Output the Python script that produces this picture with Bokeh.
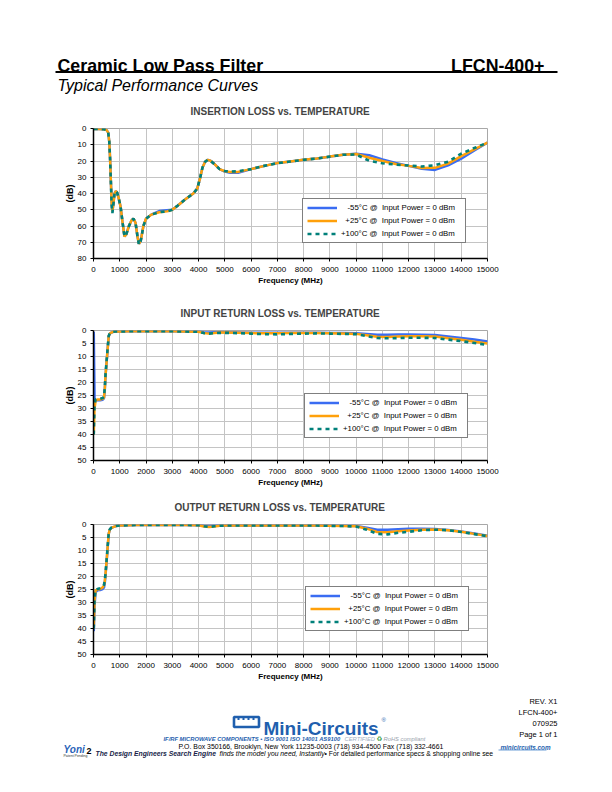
from bokeh.plotting import figure
from bokeh.models import Range1d, FixedTicker, BasicTickFormatter, Label, Arrow
from bokeh.layouts import column
from bokeh.embed import file_html
from bokeh.resources import INLINE

FONT = "Liberation Sans"

# ---------------- data ----------------
freq_il = [10, 200, 400, 500, 560, 600, 630, 660, 690, 720, 760, 800, 850, 900, 960,
           1030, 1100, 1180, 1250, 1350, 1450, 1520, 1600, 1680, 1730, 1800, 1900, 2000,
           2200, 2500, 2800, 3000, 3200, 3500, 3800, 3950, 4050, 4150, 4250, 4350, 4450,
           4600, 4800, 5000, 5200, 5500, 6000, 6500, 7000, 7500, 8000, 8500, 9000, 9500,
           10000, 10500, 11000, 11500, 12000, 12500, 13000, 13500, 14000, 14500, 15000]
il_m55 = [0.3, 0.3, 0.5, 1.0, 2.5, 8.0, 18.0, 32.0, 45.0, 51.0, 46.0, 40.0, 38.5, 39.5, 43.0,
          48.0, 57.0, 66.5, 65.0, 60.0, 56.5, 55.5, 58.0, 67.0, 71.0, 69.0, 60.0, 55.5,
          53.0, 50.8, 50.3, 50.0, 47.5, 43.5, 40.0, 37.0, 31.0, 24.0, 20.5, 19.3, 19.8,
          21.8, 25.0, 26.5, 27.2, 27.3, 25.0, 23.0, 21.3, 20.3, 19.3, 18.5, 17.3, 16.2,
          15.5, 16.5, 19.0, 21.2, 23.0, 24.8, 25.5, 22.7, 18.6, 13.5, 8.7]
il_p25 = [0.3, 0.3, 0.5, 1.0, 2.5, 8.0, 18.0, 32.0, 45.5, 51.0, 46.0, 40.0, 38.5, 39.5, 43.0,
          48.0, 57.0, 66.5, 65.0, 60.0, 56.5, 55.5, 58.0, 67.0, 71.0, 69.0, 60.0, 55.5,
          53.0, 51.5, 51.0, 50.0, 47.5, 43.5, 40.0, 37.0, 31.0, 24.0, 20.5, 19.3, 19.8,
          21.8, 25.0, 26.3, 26.8, 26.7, 25.0, 23.0, 21.3, 20.3, 19.3, 18.5, 17.3, 16.2,
          15.7, 18.0, 20.0, 21.8, 23.0, 24.3, 24.2, 21.6, 17.0, 12.8, 8.7]
il_p100 = [0.3, 0.3, 0.5, 1.0, 2.5, 8.0, 18.0, 32.0, 47.0, 52.0, 46.0, 40.0, 38.5, 39.5, 43.0,
           48.0, 57.0, 66.5, 65.0, 60.0, 56.5, 55.5, 58.0, 67.0, 71.5, 69.0, 60.0, 55.5,
           53.0, 51.5, 51.0, 50.0, 47.5, 43.5, 40.0, 37.0, 31.0, 24.0, 20.5, 19.3, 19.8,
           21.8, 25.0, 26.2, 26.5, 26.3, 25.0, 23.0, 21.3, 20.3, 19.3, 18.5, 17.3, 16.2,
           16.0, 19.9, 21.4, 22.2, 22.8, 23.4, 22.6, 20.4, 15.5, 12.0, 8.7]

freq_rl = [10, 40, 80, 150, 250, 350, 400, 430, 460, 500, 540, 580, 620, 680, 750, 850,
           1000, 1300, 1600, 2000, 2500, 3000, 3500, 4000, 4200, 4400, 4600, 4800, 5000,
           5500, 6000, 6500, 7000, 7500, 8000, 8500, 9000, 9500, 10000, 10400, 10800,
           11200, 11600, 12000, 12500, 13000, 13500, 14000, 14500, 15000]
irl_m55 = [0.5, 26.5, 26.8, 26.8, 26.8, 26.6, 26.0, 22.8, 17.2, 12.0, 7.0, 2.2, 1.2, 0.8,
           0.5, 0.4, 0.4, 0.3, 0.3, 0.3, 0.3, 0.3, 0.4, 0.4, 0.7, 0.8, 0.7, 0.7, 0.7, 0.8,
           0.9, 0.9, 0.9, 0.9, 0.9, 0.9, 1.0, 1.0, 1.1, 1.3, 1.6, 1.6, 1.5, 1.5, 1.6, 1.7,
           2.3, 2.9, 3.5, 4.2]
irl_p25 = [40.0, 30.0, 27.0, 26.5, 26.5, 26.3, 25.8, 22.5, 17.0, 12.0, 7.0, 2.2, 1.2, 0.8,
           0.5, 0.4, 0.4, 0.3, 0.3, 0.3, 0.3, 0.3, 0.4, 0.5, 1.0, 1.2, 1.0, 0.8, 0.8, 0.9,
           1.0, 1.1, 1.1, 1.0, 1.0, 1.0, 1.1, 1.2, 1.3, 1.8, 2.4, 2.5, 2.3, 2.2, 2.2, 2.3,
           3.0, 3.6, 4.3, 5.0]
irl_p100 = [40.0, 28.5, 26.5, 26.3, 26.3, 26.0, 25.5, 22.0, 16.5, 11.5, 6.5, 2.0, 1.1, 0.8,
            0.5, 0.4, 0.4, 0.3, 0.3, 0.3, 0.3, 0.3, 0.4, 0.5, 1.0, 1.2, 1.0, 0.9, 0.9, 1.0,
            1.2, 1.4, 1.5, 1.3, 1.2, 1.1, 1.2, 1.3, 1.4, 2.2, 2.9, 3.0, 2.9, 2.8, 2.8, 2.9,
            3.5, 4.1, 4.8, 5.6]

orl_m55 = [41.0, 31.0, 26.0, 25.3, 25.2, 24.8, 24.2, 22.5, 19.3, 14.2, 8.8, 3.6, 2.0, 1.3,
           1.0, 0.6, 0.4, 0.3, 0.2, 0.2, 0.2, 0.2, 0.2, 0.3, 0.5, 0.6, 0.5, 0.4, 0.4, 0.4,
           0.4, 0.4, 0.4, 0.4, 0.4, 0.4, 0.4, 0.5, 0.6, 1.2, 2.0, 2.0, 1.8, 1.6, 1.6, 1.7,
           2.1, 2.7, 3.5, 4.3]
orl_p25 = [40.0, 29.0, 25.3, 25.0, 24.8, 24.2, 23.4, 21.8, 18.8, 13.8, 8.5, 3.5, 2.0, 1.3,
           1.0, 0.6, 0.4, 0.3, 0.2, 0.2, 0.2, 0.2, 0.2, 0.3, 0.8, 1.0, 0.8, 0.5, 0.4, 0.4,
           0.4, 0.4, 0.4, 0.4, 0.4, 0.4, 0.5, 0.6, 0.7, 1.6, 2.9, 3.0, 2.6, 2.3, 2.0, 1.9,
           2.2, 2.8, 3.6, 4.4]
orl_p100 = [40.0, 28.5, 25.0, 24.8, 24.5, 24.0, 23.2, 21.5, 18.5, 13.5, 8.2, 3.3, 1.9, 1.2,
            0.9, 0.6, 0.4, 0.3, 0.2, 0.2, 0.2, 0.2, 0.2, 0.3, 0.7, 0.9, 0.7, 0.5, 0.4, 0.4,
            0.4, 0.4, 0.4, 0.4, 0.4, 0.4, 0.5, 0.6, 0.8, 2.0, 3.6, 3.8, 3.2, 2.8, 2.2, 2.0,
            2.2, 2.9, 3.7, 4.5]

x_ticks = list(range(0, 15001, 1000))
legend_labels = ["\u00a0\u00a0\u00a0-55\u00b0C @  Input Power = 0 dBm",
                 "\u00a0\u00a0+25\u00b0C @  Input Power = 0 dBm",
                 "+100\u00b0C @  Input Power = 0 dBm"]
series_colors = ["#3a6cf2", "#ffa00a", "#00807a"]

W = 604
LEFT = 93
RIGHT = 117


def chart(title, title_offset, freq, s1, s2, s3, ymax, ystep, height, top, bottom, loc):
    p = figure(width=W, height=height, output_backend="svg", toolbar_location=None,
               x_range=Range1d(0, 15000), y_range=Range1d(ymax, 0),
               min_border_left=LEFT, min_border_right=RIGHT,
               min_border_top=top, min_border_bottom=bottom)
    p.title.text = title
    p.title.text_font = FONT
    p.title.text_font_size = "10px"
    p.title.text_font_style = "bold"
    p.title.align = "left"
    p.title.offset = title_offset
    p.title.vertical_align = "top"
    p.title.standoff = 20
    p.outline_line_color = "#a8a8a8"
    p.outline_line_width = 1
    p.xgrid.grid_line_color = "#c4c4c4"
    p.ygrid.grid_line_color = "#c4c4c4"
    p.xaxis.ticker = FixedTicker(ticks=x_ticks)
    p.yaxis.ticker = FixedTicker(ticks=list(range(0, ymax + 1, ystep)))
    p.xaxis.formatter = BasicTickFormatter(use_scientific=False)
    for ax in (p.xaxis, p.yaxis):
        ax.axis_line_color = "black"
        ax.axis_line_width = 1.5
        ax.major_tick_out = 3
        ax.major_tick_in = 0
        ax.minor_tick_out = 0
        ax.minor_tick_in = 0
        ax.major_tick_line_color = "black"
        ax.major_label_text_font = FONT
        ax.major_label_text_font_size = "8px"
        ax.major_label_text_color = "black"
        ax.axis_label_text_font = FONT
        ax.axis_label_text_font_style = "bold"
        ax.axis_label_text_color = "black"
    p.xaxis.major_label_standoff = 5
    p.yaxis.major_label_standoff = 4
    p.xaxis.axis_label = "Frequency (MHz)"
    p.xaxis.axis_label_text_font_size = "8px"
    p.xaxis.axis_label_standoff = 1
    p.yaxis.axis_label = "(dB)"
    p.yaxis.axis_label_text_font_size = "9px"
    p.yaxis.axis_label_standoff = 0

    p.line(freq, s1, color=series_colors[0], line_width=2.5, legend_label=legend_labels[0])
    p.line(freq, s2, color=series_colors[1], line_width=2.5, legend_label=legend_labels[1])
    p.line(freq, s3, color=series_colors[2], line_width=2.6, line_dash="4 4",
           legend_label=legend_labels[2])

    lg = p.legend[0]
    lg.location = loc
    lg.border_line_color = "black"
    lg.border_line_width = 1
    lg.background_fill_color = "white"
    lg.background_fill_alpha = 1
    lg.padding = 4
    lg.margin = 0
    lg.spacing = 4
    lg.label_height = 9
    lg.glyph_height = 9
    lg.glyph_width = 30
    lg.label_width = 120
    lg.label_standoff = 4
    lg.label_text_font = FONT
    lg.label_text_font_size = "7.8px"
    lg.label_text_color = "black"
    return p


def blank(height, ytop):
    # page-pixel coordinates; frame not aligned with the charts
    p = figure(width=W, height=height, output_backend="svg", toolbar_location=None,
               x_range=Range1d(0, W), y_range=Range1d(ytop + height, ytop),
               x_axis_type=None, y_axis_type=None, min_border=0)
    p.frame_align = False
    p.grid.visible = False
    p.outline_line_color = None
    return p


def lab(p, x, y, s, size, style="normal", color="black", align="left", font=FONT):
    p.add_layout(Label(x=x, y=y, text=s, text_font=font, text_font_size=size,
                       text_font_style=style, text_color=color, text_align=align,
                       text_baseline="alphabetic"))


def rule(p, x0, x1, y, width, color):
    p.add_layout(Arrow(start=None, end=None, x_start=x0, y_start=y, x_end=x1, y_end=y,
                       line_width=width, line_color=color))


# ---------------- header ----------------
head = blank(94, 0)
lab(head, 57, 65, "Ceramic Low Pass Filter", "17.8px", "bold")
lab(head, 544, 65, "LFCN-400+", "17.8px", "bold", align="right")
rule(head, 55, 557, 71.5, 2, "black")
lab(head, 57, 84.5, "Typical Performance Curves", "16px", "italic")

# ---------------- charts ----------------
c1 = chart("INSERTION LOSS vs. TEMPERATURE", 97, freq_il, il_m55, il_p25, il_p100,
           80, 10, 202, 34, 38, (209, 15))
c2 = chart("INPUT RETURN LOSS vs. TEMPERATURE", 87, freq_rl, irl_m55, irl_p25, irl_p100,
           50, 5, 194, 34, 30, (211, 22))
c3 = chart("OUTPUT RETURN LOSS vs. TEMPERATURE", 81, freq_rl, orl_m55, orl_p25, orl_p100,
           50, 5, 200, 34, 36, (212, 23))

# ---------------- footer ----------------
foot = blank(94, 690)
BLUE = "#1f5fae"
for i, s in enumerate(["REV. X1", "LFCN-400+", "070925", "Page 1 of 1"]):
    lab(foot, 557, 700.5 + 11 * i, s, "7.5px", align="right")
# logo icon
foot.rect(x=[246], y=[721.5], width=[25], height=[10], fill_color=None,
          line_color=BLUE, line_width=2.6)
foot.segment(x0=[238, 243, 248, 253], y0=[716.5, 716.5, 716.5, 716.5],
             x1=[238, 243, 248, 253], y1=[719.5, 719.5, 719.5, 719.5],
             line_color=BLUE, line_width=2)
lab(foot, 263, 727.5, "Mini-Circuits", "19px", "bold", color=BLUE)
lab(foot, 381, 719, "\u00ae", "6px", color=BLUE)
lab(foot, 163, 738.5, "IF/RF MICROWAVE COMPONENTS \u2022 ISO 9001 ISO 14001 AS9100",
    "5.8px", "bold italic", color=BLUE)
lab(foot, 344, 738.5, "CERTIFIED", "5.8px", "italic", color="#9fb0c4")
lab(foot, 376, 738.5, "\u267b", "6.5px", "bold", color="#2f9a3a", font="DejaVu Sans")
lab(foot, 383, 738.5, "RoHS compliant", "5.8px", "italic", color="#9aa3ad")
lab(foot, 178, 745.5,
    "P.O. Box 350166, Brooklyn, New York 11235-0003  (718) 934-4500  Fax (718) 332-4661",
    "6.9px")
lab(foot, 95, 753, "The Design Engineers Search Engine", "6.8px", "bold italic", color="#1a1f4a")
lab(foot, 219, 753, "finds the model you need, Instantly", "6.8px", "italic")
lab(foot, 324, 753, " \u2022 For detailed performance specs & shopping online see", "6.8px")
lab(foot, 500, 747, "minicircuits.com", "6.3px", "bold italic", color=BLUE)
rule(foot, 498, 546, 749.5, 1.2, "#6f9fd8")
# left logo
lab(foot, 63, 749, "Yoni", "10px", "bold italic", color="#2a63b8")
lab(foot, 86, 750, "2", "9px", "bold", color="black")
lab(foot, 63, 755.5, "Patent Pending", "3.5px", color="#333333")

layout = column(head, c1, c2, c3, foot, spacing=0)
open("out.html", "w").write(file_html(layout, INLINE))
